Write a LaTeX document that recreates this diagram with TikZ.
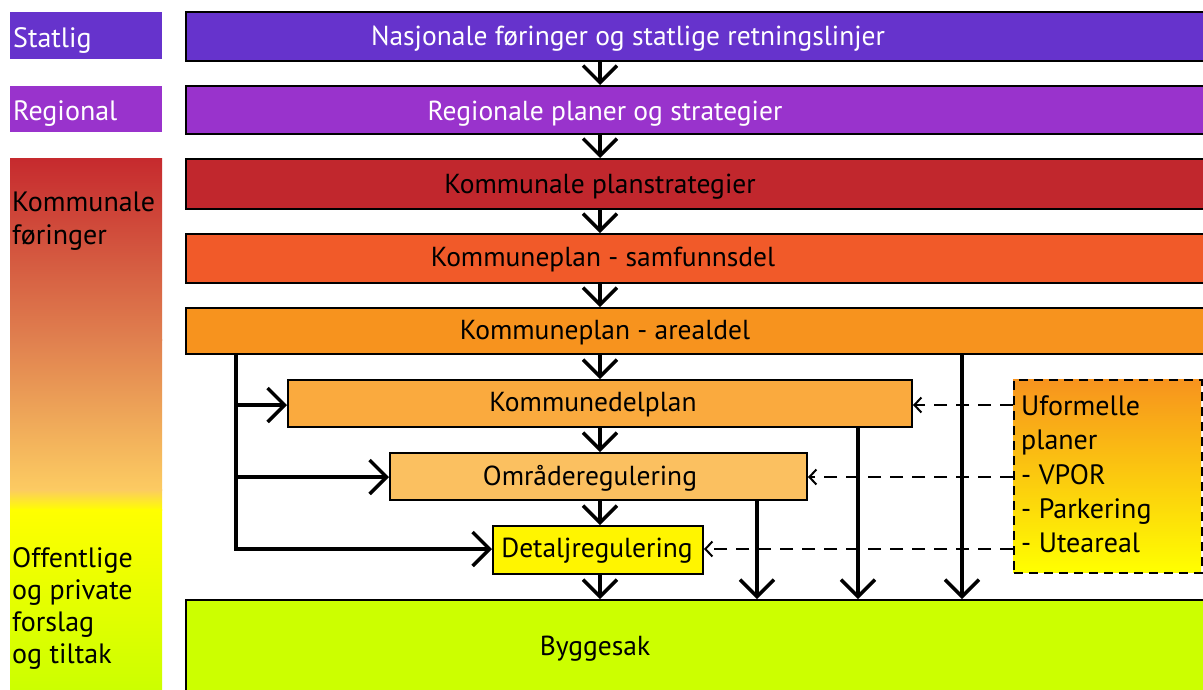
\documentclass[tikz,border=0pt]{standalone}
\usepackage{fontspec}
\setmainfont{PT Sans}
\usetikzlibrary{arrows.meta}
\definecolor{cStat}{HTML}{6633CC}
\definecolor{cReg}{HTML}{9933CC}
\definecolor{cKps}{HTML}{C1272D}
\definecolor{cSamf}{HTML}{F15A29}
\definecolor{cAreal}{HTML}{F7931E}
\definecolor{cKdp}{HTML}{FAAA3E}
\definecolor{cOmr}{HTML}{FBC060}
\definecolor{cDet}{HTML}{FFF500}
\definecolor{cBygg}{HTML}{CCFF00}
\definecolor{gA}{HTML}{C62A2E}
\definecolor{gB}{HTML}{E0804F}
\definecolor{gC}{HTML}{FCCB62}
\definecolor{gD}{HTML}{FFFF00}
\definecolor{gE}{HTML}{CCFF00}
\tikzset{
  box/.style={draw=black, line width=2pt, rectangle, inner sep=0pt, anchor=north west},
  lbl/.style={font=\fontsize{27.5}{30}\selectfont, inner sep=0pt, anchor=base},
  side/.style={font=\fontsize{28}{30}\selectfont, inner sep=0pt, anchor=base west},
  arr/.style={line width=3.5pt, -{Straight Barb[length=17pt,width=34pt,line width=3.5pt]}},
  plain/.style={line width=3.5pt},
  darr/.style={line width=2pt, dash pattern=on 13pt off 9pt, -{Straight Barb[length=7pt,width=15pt,line width=2pt]}}
}
\begin{document}
\begin{tikzpicture}[x=1pt,y=-1pt]
\useasboundingbox (0,0) rectangle (1203,689);
\fill[white] (0,0) rectangle (1203,689);
% left labels
\fill[cStat] (10,12) rectangle (162,59);
\node[side, text=white] (lstat) at (13,47) {Statlig};
\fill[cReg] (10,86) rectangle (162,132);
\node[side, text=white] (lreg) at (13,120) {Regional};
\shade[top color=gA, bottom color=gB] (10,158) rectangle (162,340);
\shade[top color=gB, bottom color=gC] (10,339.5) rectangle (162,490);
\shade[top color=gC, bottom color=gD] (10,489.5) rectangle (162,510);
\shade[top color=gD, bottom color=gE] (10,509.5) rectangle (162,689);
\node[side] (lkom1) at (12,211) {Kommunale};
\node[side] (lkom2) at (12,244) {føringer};
\node[side] (loff1) at (12,567) {Offentlige};
\node[side] (loff2) at (12,599) {og private};
\node[side] (loff3) at (12,631) {forslag};
\node[side] (loff4) at (12,663) {og tiltak};
% main boxes
\node[box, fill=cStat, minimum width=1030pt, minimum height=49pt] (nasj) at (185,11) {};
\node[lbl, text=white] (tnasj) at (628,45) {Nasjonale føringer og statlige retningslinjer};
\node[box, fill=cReg, minimum width=1030pt, minimum height=48pt] (reg) at (185,85) {};
\node[lbl, text=white] (treg) at (605,120) {Regionale planer og strategier};
\node[box, fill=cKps, minimum width=1030pt, minimum height=50pt] (kps) at (185,158) {};
\node[lbl] (tkps) at (600,193) {Kommunale planstrategier};
\node[box, fill=cSamf, minimum width=1030pt, minimum height=49pt] (samf) at (185,233) {};
\node[lbl] (tsamf) at (603,266) {Kommuneplan - samfunnsdel};
\node[box, fill=cAreal, minimum width=1030pt, minimum height=46pt] (areal) at (185,307) {};
\node[lbl] (tareal) at (605,339) {Kommuneplan - arealdel};
\node[box, fill=cKdp, minimum width=624pt, minimum height=47pt] (kdp) at (287,379) {};
\node[lbl] (tkdp) at (593,411) {Kommunedelplan};
\node[box, fill=cOmr, minimum width=417pt, minimum height=47pt] (omr) at (389,452) {};
\node[lbl] (tomr) at (590,485) {Områderegulering};
\node[box, fill=cDet, minimum width=210pt, minimum height=48pt] (det) at (492,525) {};
\node[lbl] (tdet) at (597,557) {Detaljregulering};
\node[box, fill=cBygg, minimum width=1030pt, minimum height=100pt] (bygg) at (185,599) {};
\node[lbl] (tbygg) at (595,655) {Byggesak};
% informal plans box
\shade[top color=cAreal, bottom color=gD] (1013,379) rectangle (1201,572);
\node[box, draw=black, dash pattern=on 9pt off 6pt, minimum width=188pt, minimum height=193pt] (uform) at (1013,379) {};
\node[side] (tu1) at (1021,415) {Uformelle};
\node[side] (tu2) at (1021,449) {planer};
\node[side] (tu3) at (1021,484) {- VPOR};
\node[side] (tu4) at (1021,518) {- Parkering};
\node[side] (tu5) at (1021,552) {- Uteareal};
% helper coordinates
\coordinate (xm) at (600,0);
\coordinate (xl) at (236,0);
\coordinate (x1) at (757,0);
\coordinate (x2) at (858,0);
\coordinate (x3) at (962,0);
\coordinate (yk) at (0,405);
\coordinate (yo) at (0,477);
\coordinate (yd) at (0,549);
% dashed arrows
\draw[darr] (uform.west |- yk) -- (kdp.east |- yk);
\draw[darr] (uform.west |- yo) -- (omr.east |- yo);
\draw[darr] (uform.west |- yd) -- (det.east |- yd);
% main chain
\draw[arr] (xm |- nasj.south) -- (xm |- reg.north);
\draw[arr] (xm |- reg.south) -- (xm |- kps.north);
\draw[arr] (xm |- kps.south) -- (xm |- samf.north);
\draw[arr] (xm |- samf.south) -- (xm |- areal.north);
\draw[arr] (xm |- areal.south) -- (xm |- kdp.north);
\draw[arr] (xm |- kdp.south) -- (xm |- omr.north);
\draw[arr] (xm |- omr.south) -- (xm |- det.north);
\draw[arr] (xm |- det.south) -- (xm |- bygg.north);
% left branch
\draw[plain] (xl |- areal.south) -- (xl |- yd);
\draw[arr] (xl |- yk) -- (kdp.west |- yk);
\draw[arr] (xl |- yo) -- (omr.west |- yo);
\draw[arr] ([xshift=-1.75pt]xl |- yd) -- (det.west |- yd);
% down arrows to Byggesak
\draw[arr] (x1 |- omr.south) -- (x1 |- bygg.north);
\draw[arr] (x2 |- kdp.south) -- (x2 |- bygg.north);
\draw[arr] (x3 |- areal.south) -- (x3 |- bygg.north);
\end{tikzpicture}
\end{document}
